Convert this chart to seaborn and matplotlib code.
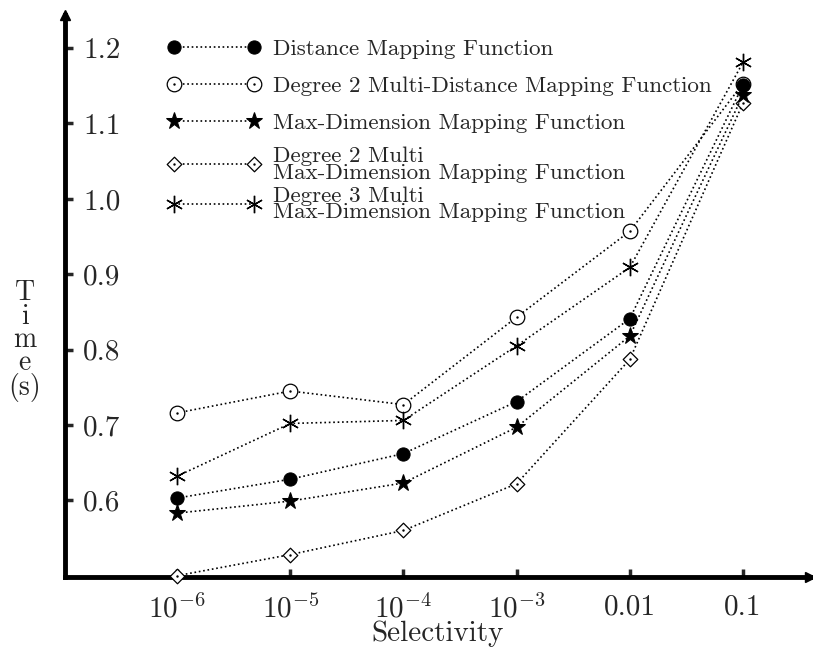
import matplotlib
matplotlib.use("Agg")
import matplotlib.pyplot as plt
from matplotlib.path import Path
import seaborn as sns
import numpy as np

# selectivity values (x) and tick labels
selectivity = [1e-6, 1e-5, 1e-4, 1e-3, 1e-2, 1e-1]
xlabels = [r'$10^{-6}$', r'$10^{-5}$', r'$10^{-4}$', r'$10^{-3}$', '0.01', '0.1']
yticks = [0.6, 0.7, 0.8, 0.9, 1.0, 1.1, 1.2]

# time in seconds
distance = [0.603, 0.628, 0.662, 0.731, 0.841, 1.151]
deg2_multi_distance = [0.716, 0.745, 0.727, 0.843, 0.957, 1.153]
max_dim = [0.583, 0.599, 0.623, 0.697, 0.818, 1.138]
deg2_multi_max_dim = [0.500, 0.528, 0.560, 0.622, 0.787, 1.127]
deg3_multi_max_dim = [0.632, 0.702, 0.706, 0.805, 0.909, 1.181]

sns.set_style("white")
plt.rcParams['font.family'] = ['cmr10', 'DejaVu Serif']
plt.rcParams['mathtext.fontset'] = 'cm'
plt.rcParams['axes.formatter.use_mathtext'] = True

# circle / diamond with a small dot in the middle
dot = Path.circle((0, 0), 0.08)
circ_dot = Path.make_compound_path(Path.unit_circle(), dot)
diamond = Path([(0, 1), (1, 0), (0, -1), (-1, 0), (0, 1)], closed=True)
diam_dot = Path.make_compound_path(diamond, dot)

fig = plt.figure(figsize=(8.13, 6.5), dpi=100)
ax = fig.add_axes([0.080, 0.112, 0.916, 0.865])

xpos = np.log10(selectivity) + 6

series = [
    ("Distance Mapping Function", distance,
     dict(marker='o', markersize=9.5, markerfacecolor='k', zorder=5)),
    ("Degree 2 Multi-Distance Mapping Function", deg2_multi_distance,
     dict(marker=circ_dot, markersize=10.5, markerfacecolor='white', markeredgewidth=0.9, zorder=3)),
    ("Max-Dimension Mapping Function", max_dim,
     dict(marker='*', markersize=12.5, markerfacecolor='k', zorder=4)),
    ("Degree 2 Multi\nMax-Dimension Mapping Function", deg2_multi_max_dim,
     dict(marker=diam_dot, markersize=10.5, markerfacecolor='white', markeredgewidth=0.9, zorder=3)),
    ("Degree 3 Multi\nMax-Dimension Mapping Function", deg3_multi_max_dim,
     dict(marker=(6, 2, 0), markersize=12.5, markeredgewidth=1.0, zorder=3)),
]

for label, vals, kw in series:
    sns.lineplot(x=xpos, y=vals, ax=ax, color='k', linestyle=':', linewidth=1.2,
                 markeredgecolor='k', label=label, clip_on=False, **kw)

ax.set_xlim(-0.99, 5.59)
ax.set_ylim(0.498, 1.244)
ax.set_xticks(range(6))
ax.set_xticklabels(xlabels, fontsize=21)
ax.set_yticks(yticks)
ax.set_yticklabels([f"{v:.1f}" for v in yticks], fontsize=21, ha='left')
ax.tick_params(direction='in', length=6, width=2.5, left=True, bottom=True)
ax.tick_params(axis='x', pad=12)
ax.tick_params(axis='y', pad=-13)

for s in ['top', 'right']:
    ax.spines[s].set_visible(False)
for s in ['left', 'bottom']:
    ax.spines[s].set_linewidth(3.5)
    ax.spines[s].set_color('k')

# arrow heads on the axes
ax.plot(1, 0, '>', color='k', markersize=7, transform=ax.transAxes, clip_on=False)
ax.plot(0, 1, '^', color='k', markersize=7, transform=ax.transAxes, clip_on=False)

ax.set_xlabel("Selectivity", fontsize=21, labelpad=-2)
ax.set_ylabel("T\ni\nm\ne\n(s)", fontsize=20, rotation=0, linespacing=0.85,
              va='center', ha='center')
ax.yaxis.set_label_coords(-0.054, 0.42)

# legend in two blocks: the two-line entries sit closer together
handles, labels = ax.get_legend_handles_labels()
common = dict(loc='upper left', frameon=False, fontsize=16.6, numpoints=2,
              handlelength=4.07, handletextpad=0.52, borderaxespad=0)
leg1 = ax.legend(handles[:3], labels[:3], bbox_to_anchor=(0.125, 0.973),
                 labelspacing=0.72, **common)
ax.add_artist(leg1)
leg2 = ax.legend(handles[3:], labels[3:], bbox_to_anchor=(0.125, 0.782),
                 labelspacing=0.15, **common)
for t in leg2.get_texts():
    t.set_linespacing(0.8)

fig.savefig("out.png", dpi=100)
